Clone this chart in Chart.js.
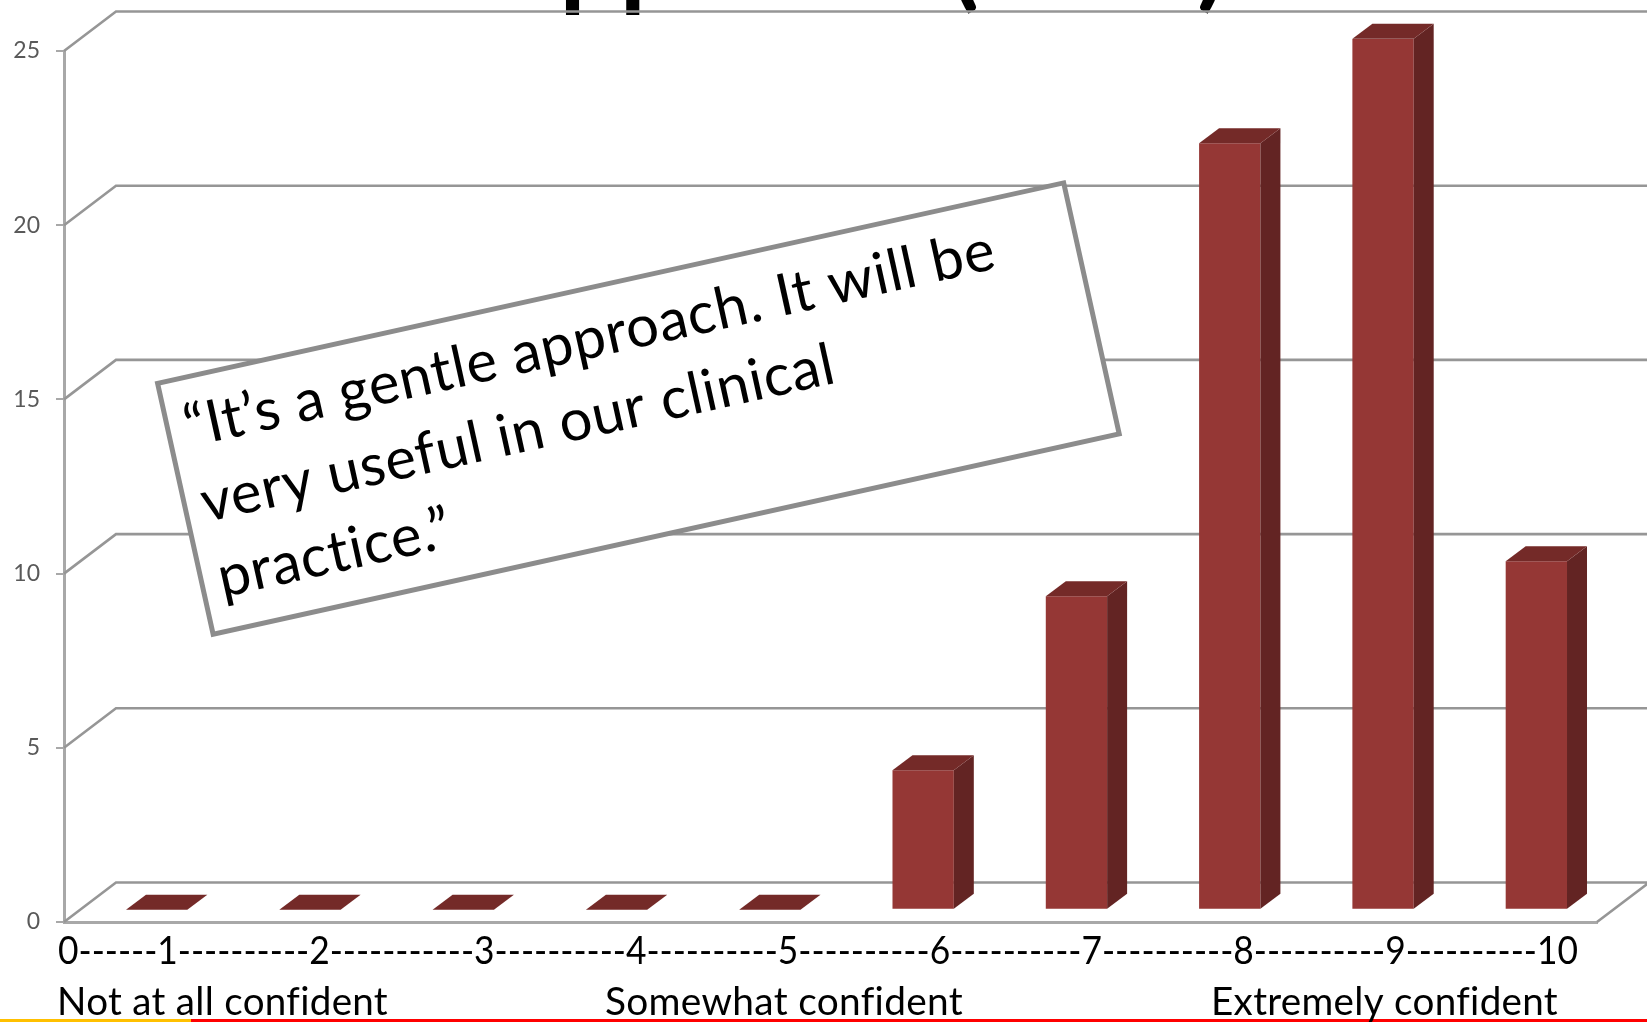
<!DOCTYPE html>
<html>
<head>
<meta charset="utf-8">
<style>
  html, body { margin: 0; padding: 0; background: #fff; overflow: hidden; }
  canvas { display: block; }
</style>
</head>
<body>
<canvas id="myChart" width="1647" height="1022"></canvas>
<script src="https://cdn.jsdelivr.net/npm/chart.js@4"></script>
<script>
	// 응답 분포
	const categories = ['1', '2', '3', '4', '5', '6', '7', '8', '9', '10'];
	const responseCounts = [0, 0, 0, 0, 0, 4, 9, 22, 25, 10];
	const yTicks = [0, 5, 10, 15, 20, 25];

	// 축 아래 글자
	const scaleLine = '0------1----------2-----------3----------4----------5----------6----------7----------8----------9----------10';
	const anchorLabels = ['Not at all confident', 'Somewhat confident', 'Extremely confident'];
	const quoteLines = ['\u201CIt\u2019s a gentle approach. It will be', 'very useful in our clinical', 'practice.\u201D'];

	const FONT = 'Lato, "Open Sans", sans-serif';
	const GRID_COLOR = '#969696';

	// 가짜 3D 깊이값
	const WALL_DX = 52, WALL_DY = -39.5;   // 앞면 -> 뒷벽
	const BAR_DX = 16, BAR_DY = -12.3;     // 앞면 -> 막대 앞면
	const SIDE_DX = 20, SIDE_DY = -15;     // 막대 두께

	function fillPoly(ctx, pts, color) {
		ctx.fillStyle = color;
		ctx.beginPath();
		pts.forEach((p, i) => i ? ctx.lineTo(p[0], p[1]) : ctx.moveTo(p[0], p[1]));
		ctx.closePath();
		ctx.fill();
	}

	const box3d = {
		id: 'box3d',
		beforeDraw(chart) {
			const ctx = chart.ctx;
			// 슬라이드 제목 (위쪽은 잘림)
			ctx.save();
			ctx.fillStyle = '#000';
			ctx.font = '700 106px ' + FONT;
			ctx.textBaseline = 'alphabetic';
			ctx.fillText('Approach', 486, -3);
			ctx.fillText('(', 950, -3);
			ctx.fillText(')', 1197, -3);
			ctx.restore();
		},
		beforeDatasetsDraw(chart) {
			const { ctx, chartArea: area, scales: { y } } = chart;
			ctx.save();
			ctx.strokeStyle = GRID_COLOR;
			ctx.lineWidth = 2.6;
			ctx.beginPath();
			// 뒷벽 격자선과 왼쪽 벽 사선
			yTicks.forEach((v) => {
				const py = y.getPixelForValue(v);
				ctx.moveTo(area.left, py);
				ctx.lineTo(area.left + WALL_DX, py + WALL_DY);
				ctx.lineTo(area.right + WALL_DX, py + WALL_DY);
			});
			// 바닥 오른쪽 사선
			ctx.moveTo(area.right, area.bottom);
			ctx.lineTo(area.right + WALL_DX, area.bottom + WALL_DY);
			ctx.stroke();
			ctx.restore();

			// 막대는 바닥 안쪽으로 밀어서 그림
			ctx.save();
			ctx.translate(BAR_DX, BAR_DY);
		},
		afterDatasetsDraw(chart) {
			const ctx = chart.ctx;
			chart.getDatasetMeta(0).data.forEach((bar) => {
				const l = bar.x - bar.width / 2, r = bar.x + bar.width / 2;
				fillPoly(ctx, [[r, bar.y], [r + SIDE_DX, bar.y + SIDE_DY], [r + SIDE_DX, bar.base + SIDE_DY], [r, bar.base]], '#632423');
				fillPoly(ctx, [[l, bar.y], [l + SIDE_DX, bar.y + SIDE_DY], [r + SIDE_DX, bar.y + SIDE_DY], [r, bar.y]], '#742a28');
			});
			ctx.restore();
		},
		afterDraw(chart) {
			const ctx = chart.ctx;
			ctx.save();

			// 맨 아래 색 띠
			ctx.fillStyle = '#ff0000';
			ctx.fillRect(191, 1019, 1456, 3);
			ctx.fillStyle = '#ffc000';
			ctx.fillRect(0, 1019, 191, 3);

			// 척도 글자
			ctx.fillStyle = '#000';
			ctx.textBaseline = 'alphabetic';
			ctx.font = '38px ' + FONT;
			ctx.fillText(scaleLine, 58, 964, 1520);
			// letterSpacing을 주면 fi 합자가 풀림
			ctx.font = '39px ' + FONT;
			ctx.letterSpacing = '0.3px';
			ctx.fillText(anchorLabels[0], 57, 1015, 331);
			ctx.fillText(anchorLabels[1], 605, 1015, 358);
			ctx.fillText(anchorLabels[2], 1211, 1015, 347);

			// 기울어진 인용문 상자
			ctx.translate(157.6, 383.4);
			ctx.rotate(-12.48 * Math.PI / 180);
			ctx.fillStyle = '#fff';
			ctx.strokeStyle = '#8c8c8c';
			ctx.lineWidth = 5;
			ctx.beginPath();
			ctx.rect(0, 0, 928, 257);
			ctx.fill();
			ctx.stroke();
			ctx.fillStyle = '#000';
			ctx.font = '58px ' + FONT;
			ctx.letterSpacing = '0.7px';
			quoteLines.forEach((line, i) => ctx.fillText(line, 17, 69 + i * 77));
			ctx.restore();
		}
	};

	const ctx = document.querySelector('#myChart');
	const confidenceChart = new Chart(ctx, {
		type: 'bar',
		data: {
			labels: categories,
			datasets: [
				{
					data: responseCounts,
					backgroundColor: '#953735',
					borderWidth: 0,
					barPercentage: 0.4,
					categoryPercentage: 1,
				}
			]
		},
		options: {
			responsive: false,
			animation: false,
			layout: {
				padding: { top: 51, right: 50, bottom: 100, left: 0 }
			},
			plugins: {
				legend: { display: false },
				tooltip: { enabled: false }
			},
			scales: {
				x: {
					grid: { display: false, drawTicks: false },
					border: { color: '#a8a8a8', width: 3 },
					ticks: { display: false }
				},
				y: {
					min: 0,
					max: 25,
					afterFit(scale) { scale.width = 64; },
					afterBuildTicks(scale) { scale.ticks = yTicks.map((v) => ({ value: v })); },
					grid: { drawOnChartArea: false, color: '#a8a8a8', lineWidth: 2, tickLength: 8 },
					border: { color: '#a8a8a8', width: 3 },
					ticks: {
						color: '#595959',
						padding: 16,
						font: { family: FONT, size: 23 }
					}
				}
			}
		},
		plugins: [box3d]
	});
</script>
</body>
</html>
